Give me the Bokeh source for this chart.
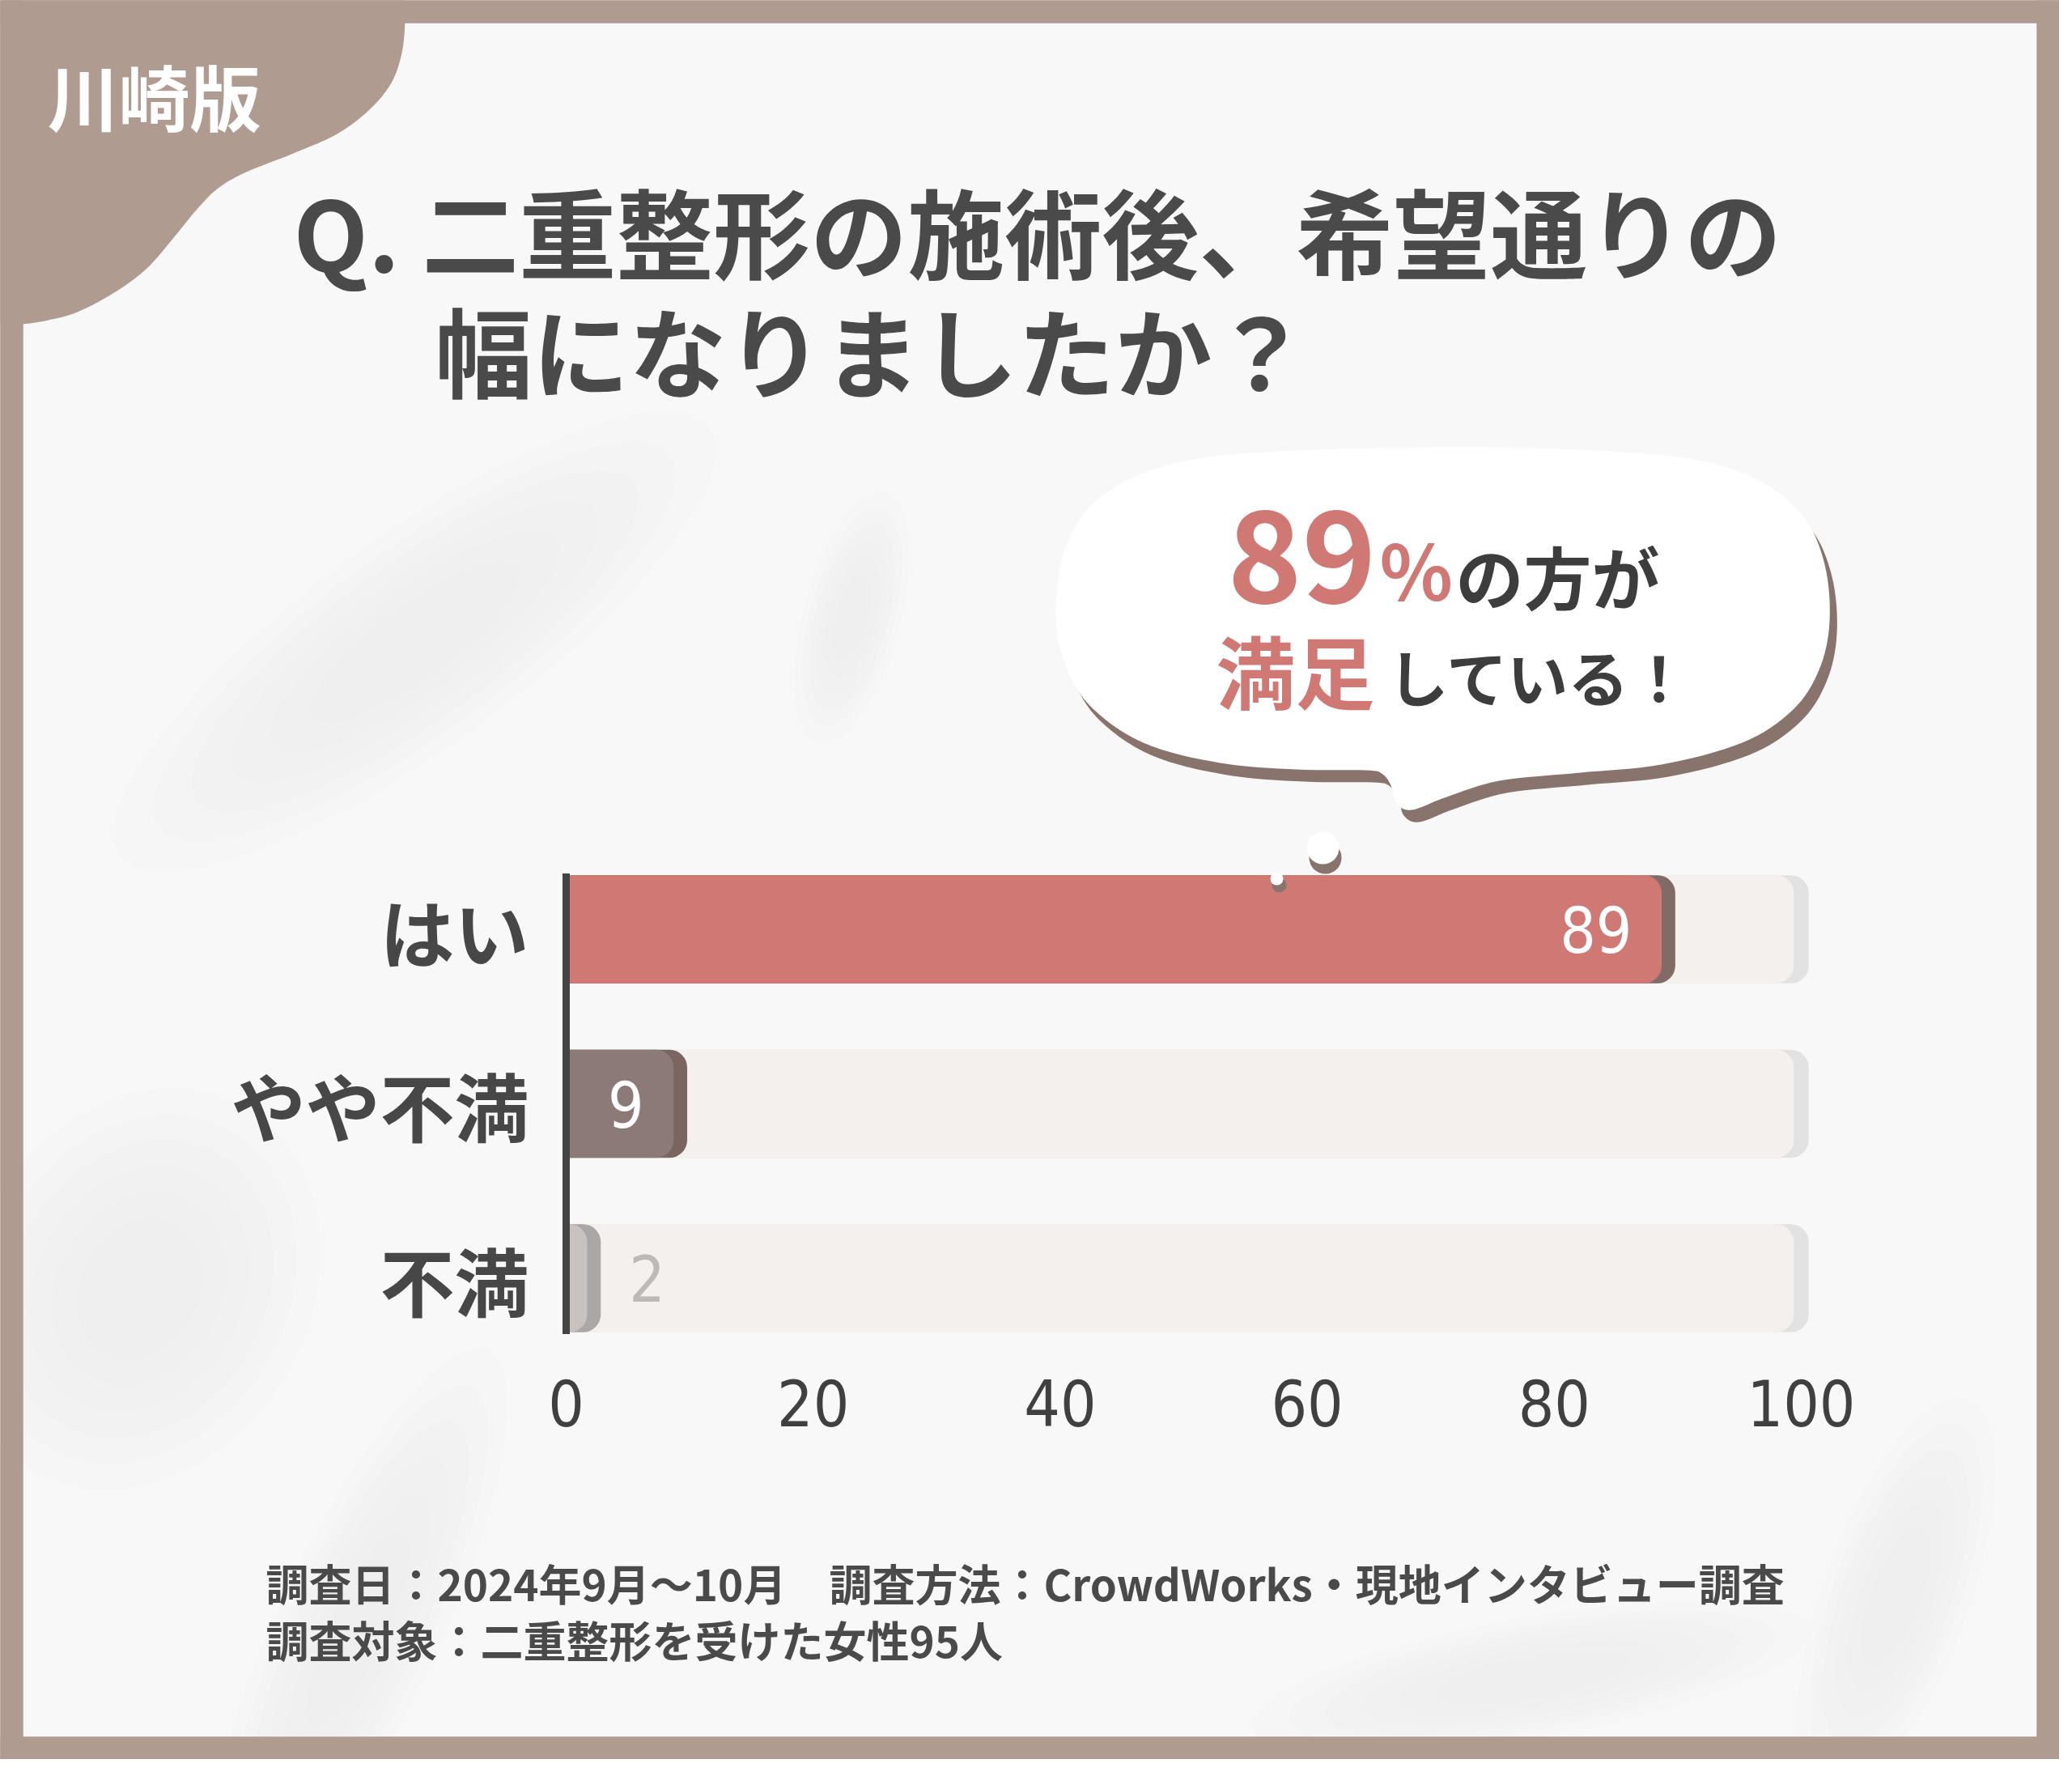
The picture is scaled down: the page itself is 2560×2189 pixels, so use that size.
import numpy as np
from bokeh.plotting import figure
from bokeh.models import Range1d
from bokeh.core.properties import value
from bokeh.embed import file_html
from bokeh.resources import INLINE

# ---------------- data ----------------
categories = ["はい", "やや不満", "不満"]
percentages = [89, 9, 2]
x_ticks = [0, 20, 40, 60, 80, 100]
bar_fill = ["#cf7874", "#8c7a78", "#c8c3c0"]
bar_edge = ["#806b66", "#7a6561", "#aaa7a6"]
title_lines = ["Q. 二重整形の施術後、希望通りの", "幅になりましたか？"]
badge_text = "川崎版"
bubble_parts_1 = ["89", "%", "の方が"]
bubble_parts_2 = ["満足", "している！"]
footer_lines = ["調査日：2024年9月～10月　調査方法：CrowdWorks・現地インタビュー調査",
                "調査対象：二重整形を受けた女性95人"]

# ---------------- layout constants (pixels of the 2560x2189 canvas) ----------------
PAGE = 8
W, H = 2544, 2173
PX0, PX100 = 707.0, 2233.0          # pixel position of 0 and 100 on the value axis
ROW_MID, ROW_STEP = 1371.0, 215.5   # pixel centre of middle row and row spacing
k = (PX100 - PX0) / 100.0
n = len(categories)
mid = (n - 1) / 2.0

x_rng = Range1d((PAGE - PX0) / k, (PAGE + W - PX0) / k)
y_rng = Range1d(mid - (PAGE + H - ROW_MID) / ROW_STEP, mid + (ROW_MID - PAGE) / ROW_STEP)

BORDER = "#b09b90"
CARD = "#f8f8f8"
SALMON = "#d07874"
JP = value("Noto Sans CJK JP")
NUM = value("DejaVu Sans Condensed, Liberation Sans Narrow, sans-serif")

p = figure(width=W, height=H, x_range=x_rng, y_range=y_rng,
           output_backend="svg", toolbar_location=None,
           x_axis_location=None, y_axis_location=None, min_border=0,
           background_fill_color=BORDER, border_fill_color=BORDER,
           outline_line_color=None)
p.xgrid.visible = False
p.ygrid.visible = False
p.extra_x_ranges = {"px": Range1d(PAGE, PAGE + W)}
p.extra_y_ranges = {"py": Range1d(PAGE + H, PAGE)}
PX = dict(x_range_name="px", y_range_name="py")


def catmull(pts, closed, steps=10):
    pts = np.asarray(pts, float)
    if closed:
        P = np.vstack([pts[-1], pts, pts[0], pts[1]])
    else:
        P = np.vstack([pts[0], pts, pts[-1]])
    out = []
    for i in range(1, len(P) - 2):
        p0, p1, p2, p3 = P[i - 1], P[i], P[i + 1], P[i + 2]
        for t in np.linspace(0, 1, steps, endpoint=False):
            t2, t3 = t * t, t * t * t
            out.append(0.5 * ((2 * p1) + (-p0 + p2) * t + (2 * p0 - 5 * p1 + 4 * p2 - p3) * t2
                              + (-p0 + 3 * p1 - 3 * p2 + p3) * t3))
    if not closed:
        out.append(pts[-1])
    out = np.array(out)
    return list(out[:, 0]), list(out[:, 1])


# ---------------- card & soft texture ----------------
p.quad(left=36, right=2524, top=36, bottom=2153, fill_color=CARD, line_color=None, **PX)
soft = [  # cx, cy, w, h, angle(deg)
    (520, 800, 900, 260, 36),
    (1060, 770, 320, 120, 75),
    (180, 1600, 520, 420, 60),
    (450, 2020, 760, 200, 65),
    (2350, 1980, 520, 180, 70),
    (1900, 2080, 700, 150, 10),
]
for scale in np.linspace(1.0, 0.35, 6):
    p.ellipse(x=[s[0] for s in soft], y=[s[1] for s in soft],
              width=[s[2] * scale for s in soft], height=[s[3] * scale for s in soft],
              angle=[s[4] for s in soft], angle_units="deg",
              fill_color="#e2e2e2", fill_alpha=0.08, line_color=None, **PX)
# outer frame drawn over the texture
p.quad(left=[0, 0, 0, 2524], right=[2560, 2560, 36, 2560], top=[0, 2153, 0, 0],
       bottom=[36, 2189, 2189, 2189], fill_color=BORDER, line_color=None, **PX)

# ---------------- top-left badge blob ----------------
blob_edge = [(508, 20), (508, 36), (504, 73), (491, 110), (464, 143), (424, 173), (370, 197),
             (312, 220), (277, 240), (250, 267), (223, 300), (188, 340), (147, 370),
             (103, 393), (67, 403), (36, 408), (20, 409)]
bx, by = catmull(blob_edge, closed=False, steps=8)
p.patch(x=[0, 508] + bx + [0], y=[0, 0] + by + [409], fill_color=BORDER, line_color=None, **PX)
p.text(x=[66], y=[124], text=[badge_text], text_font=JP, text_font_style="bold",
       text_font_size="88px", text_color="#ffffff", text_align="left", text_baseline="middle", **PX)

# ---------------- title ----------------
p.text(x=[370, 545], y=[291, 438], text=title_lines, text_font=JP, text_font_style="bold",
       text_font_size="120px", text_color="#4a4a4a", text_align="left", text_baseline="middle", **PX)

# ---------------- speech bubble ----------------
bubble_pts = [(1312, 760), (1322, 690), (1352, 636), (1410, 596), (1500, 572), (1640, 563),
              (1800, 560), (1960, 563), (2100, 575), (2182, 602), (2236, 646), (2262, 705),
              (2268, 775), (2255, 835), (2222, 885), (2160, 925), (2060, 952), (1960, 962),
              (1860, 972), (1795, 992), (1752, 1008), (1733, 1000), (1727, 980), (1716, 964),
              (1695, 959), (1610, 958), (1515, 950), (1420, 925), (1352, 877), (1320, 818)]
cx, cy = catmull(bubble_pts, closed=True, steps=8)
p.patch(x=[v + 9 for v in cx], y=[v + 15 for v in cy], fill_color="#88736d", line_color=None, **PX)
p.patch(x=cx, y=cy, fill_color="#ffffff", line_color=None, **PX)

p.text(x=[1524], y=[694], text=[bubble_parts_1[0]], text_font=JP, text_font_style="bold",
       text_font_size="156px", text_color=SALMON, text_align="left", text_baseline="middle", **PX)
p.text(x=[1712], y=[708], text=[bubble_parts_1[1]], text_font=JP, text_font_style="bold",
       text_font_size="94px", text_color=SALMON, text_align="left", text_baseline="middle", **PX)
p.text(x=[1806], y=[718], text=[bubble_parts_1[2]], text_font=JP, text_font_style="bold",
       text_font_size="84px", text_color="#3d3d3d", text_align="left", text_baseline="middle", **PX)
p.text(x=[1510], y=[833], text=[bubble_parts_2[0]], text_font=JP, text_font_style="bold",
       text_font_size="98px", text_color=SALMON, text_align="left", text_baseline="middle", **PX)
p.text(x=[1722], y=[842], text=[bubble_parts_2[1]], text_font=JP, text_font_style="bold",
       text_font_size="75px", text_color="#3d3d3d", text_align="left", text_baseline="middle", **PX)

# ---------------- bars ----------------
pos = [n - 1 - i for i in range(n)]
BAR_H = 0.62
full = x_ticks[-1]
R = (0, 22, 22, 0)
p.hbar(y=pos, left=0, right=[full + 0.6] * n, height=BAR_H, fill_color="#e2e2e2",
       line_color=None, border_radius=R)
p.hbar(y=pos, left=0, right=[full - 0.6] * n, height=BAR_H, fill_color="#f3f0ed",
       line_color=None, border_radius=R)
p.hbar(y=pos, left=0, right=[v + 0.8 for v in percentages], height=BAR_H, fill_color=bar_edge,
       line_color=None, border_radius=R)
p.hbar(y=pos, left=0, right=[v - 0.3 for v in percentages], height=BAR_H, fill_color=bar_fill,
       line_color=None, border_radius=R)

# thought-bubble dots (drawn over the first bar)
p.circle(x=[1645, 1588], y=[1067, 1101], radius=[20, 9], fill_color="#88736d", line_color=None, **PX)
p.circle(x=[1642, 1585], y=[1055, 1093], radius=[20, 8], fill_color="#ffffff", line_color=None, **PX)

# value labels
inside = [v >= 5 for v in percentages]
p.text(x=[v - 2.7 for v, f in zip(percentages, inside) if f],
       y=[q for q, f in zip(pos, inside) if f],
       text=[str(v) for v, f in zip(percentages, inside) if f],
       text_font=NUM, text_font_size="78px", text_color="#ffffff",
       text_align="right", text_baseline="middle")
p.text(x=[v + 3.1 for v, f in zip(percentages, inside) if not f],
       y=[q for q, f in zip(pos, inside) if not f],
       text=[str(v) for v, f in zip(percentages, inside) if not f],
       text_font=NUM, text_font_size="78px", text_color="#bdb9b7",
       text_align="left", text_baseline="middle")

# value axis line (x = 0)
p.segment(x0=[0], x1=[0], y0=[min(pos) - BAR_H / 2 - 0.01], y1=[max(pos) + BAR_H / 2 + 0.01],
          line_color="#444444", line_width=9)

# category labels
p.text(x=[661] * n, y=pos, text=categories, text_font=JP, text_font_size="92px",
       text_font_style="bold", text_color="#474747", text_align="right", text_baseline="middle",
       x_range_name="px")

# tick labels
p.text(x=x_ticks, y=[1740] * len(x_ticks), text=[str(t) for t in x_ticks], text_font=NUM,
       text_font_size="78px", text_color="#404040", text_align="center", text_baseline="middle",
       y_range_name="py")

# ---------------- footer ----------------
p.text(x=[336, 336], y=[1962, 2032], text=footer_lines, text_font=JP, text_font_style="bold",
       text_font_size="53px", text_color="#4a4a4a", text_align="left", text_baseline="middle", **PX)

open("out.html", "w").write(file_html(p, INLINE))
